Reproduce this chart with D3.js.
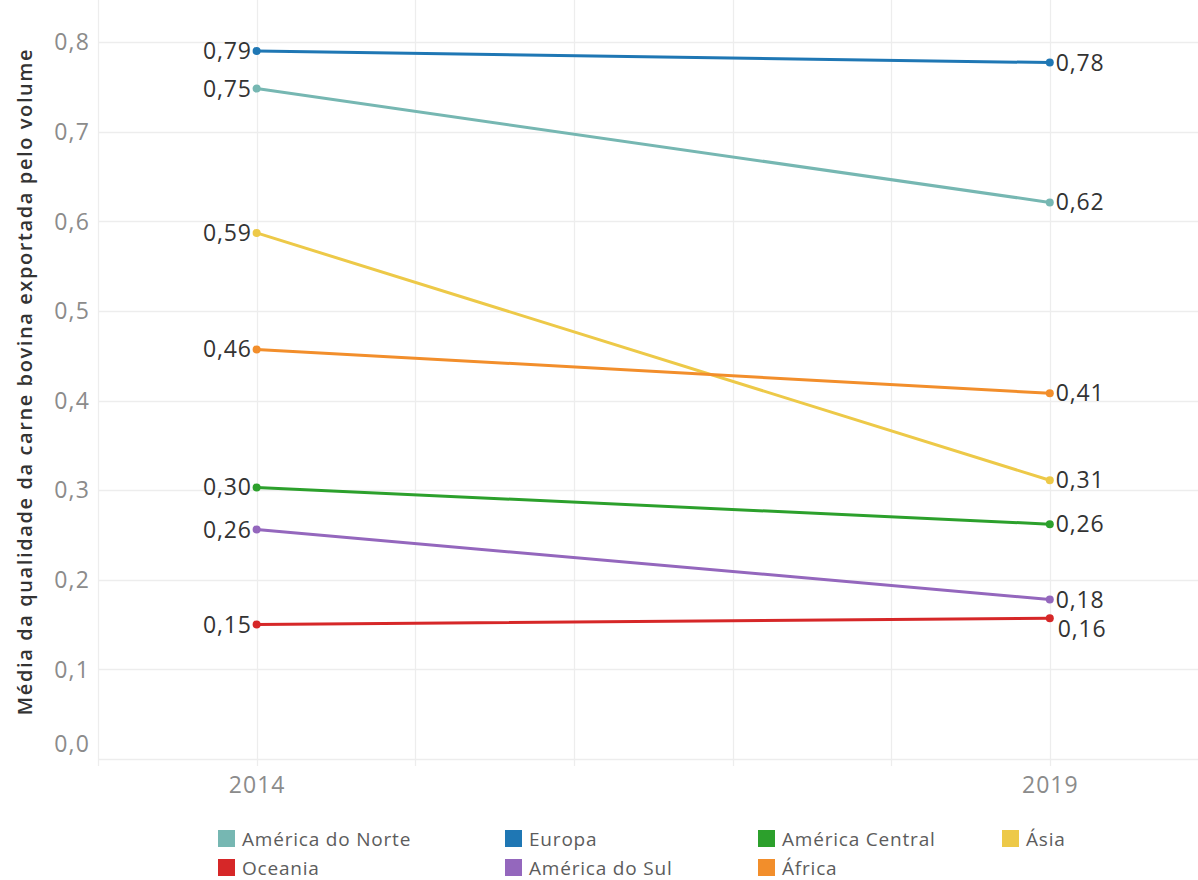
<!DOCTYPE html>
<html>
<head>
<meta charset="utf-8">
<script src="https://cdn.jsdelivr.net/npm/d3@7"></script>
<style>
  html, body { margin: 0; padding: 0; background: #fff; }
  svg { display: block; }
</style>
</head>
<body>
<svg id="chart" width="1198" height="880"></svg>
<script>
// Exported beef quality by volume, per region, 2014 vs 2019
const years = [2014, 2019];
const regions = ["América do Norte", "Europa", "América Central", "Ásia", "Oceania", "América do Sul", "África"];
const americaDoNorte = [0.748, 0.621];
const europa = [0.790, 0.777];
const americaCentral = [0.303, 0.262];
const asia = [0.587, 0.311];
const oceania = [0.150, 0.157];
const americaDoSul = [0.256, 0.178];
const africa = [0.457, 0.408];
const yTicks = [0, 0.1, 0.2, 0.3, 0.4, 0.5, 0.6, 0.7, 0.8];
const xTickLabels = [2014, 2019];
const colors = ["#76b7b2", "#1f77b4", "#2ca02c", "#edc948", "#d62728", "#9467bd", "#f28e2b"];

const seriesValues = [americaDoNorte, europa, americaCentral, asia, oceania, americaDoSul, africa];
const series = regions.map((name, i) => ({
  name, color: colors[i],
  values: years.map((yr, j) => ({ year: yr, value: seriesValues[i][j] }))
}));

const svg = d3.select("#chart");
const plotLeft = 98, plotRight = 1198, plotTop = 0, plotBottom = 759;

const x = d3.scaleLinear().domain([2013, 2019 + 148 / 158.4]).range([plotLeft, plotRight]);
const y = d3.scaleLinear().domain([0, 0.8]).range([plotBottom, 42]);

const fmtTick = v => d3.format(".1f")(v).replace(".", ",");
const fmtVal = v => d3.format(".2f")(v).replace(".", ",");
const font = "'Open Sans', sans-serif";

// grid
const grid = svg.append("g");
grid.selectAll("line.h").data(yTicks).join("line")
  .attr("x1", plotLeft).attr("x2", plotRight)
  .attr("y1", d => Math.round(y(d)) + 0.5).attr("y2", d => Math.round(y(d)) + 0.5)
  .attr("stroke", "#ededed").attr("stroke-width", 1.3);
grid.selectAll("line.v").data(d3.range(2013, 2020)).join("line")
  .attr("x1", d => Math.round(x(d)) + 0.5).attr("x2", d => Math.round(x(d)) + 0.5)
  .attr("y1", plotTop).attr("y2", plotBottom + 7)
  .attr("stroke", "#ededed").attr("stroke-width", 1.3);

// y axis (the zero label sits above its gridline)
const yAxis = svg.append("g").attr("transform", `translate(${plotLeft - 8},0)`)
  .call(d3.axisLeft(y).tickValues(yTicks).tickFormat(fmtTick).tickSize(0).tickPadding(0));
yAxis.select(".domain").remove();
yAxis.selectAll("text").attr("fill", "#8b8b8b").style("font-family", font)
  .style("font-size", "23px").style("letter-spacing", "1.2px")
  .attr("dy", d => d === 0 ? "-0.33em" : "0.34em");

// x axis
const xAxis = svg.append("g").attr("transform", `translate(0,${plotBottom + 18})`)
  .call(d3.axisBottom(x).tickValues(xTickLabels).tickFormat(d3.format("d")).tickSize(0).tickPadding(0));
xAxis.select(".domain").remove();
xAxis.selectAll("text").attr("fill", "#8b8b8b").style("font-family", font)
  .style("font-size", "23px").style("letter-spacing", "1px").attr("dy", "0.71em");

// y title
svg.append("text")
  .attr("transform", `translate(32,${(45 + 718) / 2}) rotate(-90)`)
  .attr("text-anchor", "middle")
  .style("font-family", font).style("font-size", "20px").style("font-weight", 600)
  .style("letter-spacing", "1.6px")
  .attr("fill", "#333")
  .text("Média da qualidade da carne bovina exportada pelo volume");

// lines
const line = d3.line().x(d => x(d.year)).y(d => y(d.value));
const plot = svg.append("g");
plot.selectAll("path.s").data(series).join("path")
  .attr("d", d => line(d.values)).attr("fill", "none")
  .attr("stroke", d => d.color).attr("stroke-width", 3).attr("stroke-linecap", "round");
plot.selectAll("g.pts").data(series).join("g")
  .selectAll("circle").data(d => d.values.map(v => ({ ...v, color: d.color }))).join("circle")
  .attr("cx", d => x(d.year)).attr("cy", d => y(d.value)).attr("r", 4).attr("fill", d => d.color);

// value labels, nudged apart where they would collide
function placeLabels(side) {
  const idx = side === "start" ? 0 : 1;
  const items = series.map(s => ({ v: s.values[idx].value, yPos: y(s.values[idx].value), shifted: false }))
    .sort((a, b) => a.yPos - b.yPos);
  const gap = 29;
  for (let i = 1; i < items.length; i++) {
    if (items[i].yPos - items[i - 1].yPos < gap) {
      items[i].yPos = items[i - 1].yPos + gap;
      items[i].shifted = true;
    }
  }
  return items;
}
svg.append("g").selectAll("text").data(placeLabels("start")).join("text")
  .attr("x", x(2014) - 5).attr("y", d => d.yPos).attr("dy", "0.35em")
  .attr("text-anchor", "end").attr("fill", "#333")
  .style("font-family", font).style("font-size", "23px").style("letter-spacing", "0.8px")
  .text(d => fmtVal(d.v));
svg.append("g").selectAll("text").data(placeLabels("end")).join("text")
  .attr("x", d => x(2019) + 6 + (d.shifted ? 2 : 0)).attr("y", d => d.yPos).attr("dy", "0.35em")
  .attr("text-anchor", "start").attr("fill", "#333")
  .style("font-family", font).style("font-size", "23px").style("letter-spacing", "0.8px")
  .text(d => fmtVal(d.v));

// legend
const legCols = [218, 505, 758, 1002];
const legend = svg.append("g");
const li = legend.selectAll("g").data(series).join("g")
  .attr("transform", (d, i) => `translate(${legCols[i % 4]},${i < 4 ? 830 : 859})`);
li.append("rect").attr("width", 17).attr("height", 17).attr("fill", d => d.color);
li.append("text").attr("x", 24).attr("y", 9).attr("dy", "0.35em")
  .style("font-family", font).style("font-size", "19px").style("letter-spacing", "0.8px")
  .attr("fill", "#5c5c5c").text(d => d.name);
</script>
</body>
</html>
